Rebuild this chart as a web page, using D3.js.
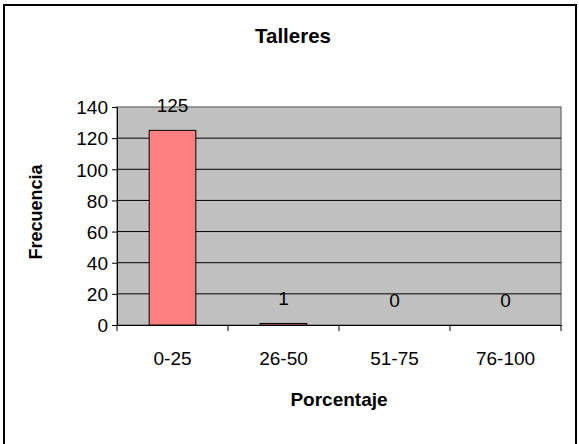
<!DOCTYPE html>
<html><head><meta charset="utf-8">
<script src="https://cdn.jsdelivr.net/npm/d3@7"></script>
<style>body{margin:0;background:#fff;} text{font-family:"Liberation Sans",Arial,sans-serif;}</style>
</head><body>
<svg id="c" width="579" height="444"></svg>
<script>
const categories = ["0-25","26-50","51-75","76-100"];
const values = [125, 1, 0, 0];
const yTicks = [0,20,40,60,80,100,120,140];
const title = "Talleres";
const xTitle = "Porcentaje";
const yTitle = "Frecuencia";

const svg = d3.select("#c");
svg.append("rect").attr("x",4).attr("y",5).attr("width",572).attr("height",445)
  .attr("fill","#fff").attr("stroke","#000").attr("stroke-width",2);

const m = {left:117, right:561, top:107, bottom:325};
const x = d3.scaleBand().domain(categories).range([m.left, m.right]).paddingInner(0).paddingOuter(0);
const y = d3.scaleLinear().domain([0,140]).range([m.bottom, m.top]);

svg.append("rect").attr("x",m.left).attr("y",m.top).attr("width",m.right-m.left).attr("height",m.bottom-m.top)
  .attr("fill","#C0C0C0").attr("stroke","#808080").attr("stroke-width",1.5);

svg.append("g").selectAll("line").data(yTicks.filter(d=>d>0 && d<140)).join("line")
  .attr("x1",m.left).attr("x2",m.right).attr("y1",d=>y(d)).attr("y2",d=>y(d))
  .attr("stroke","#000").attr("stroke-width",1);

const bw = x.bandwidth()*0.42;
svg.append("g").selectAll("rect").data(values).join("rect")
  .attr("x",(d,i)=>x(categories[i])+x.bandwidth()/2-bw/2)
  .attr("y",d=>y(d)).attr("width",bw).attr("height",d=>y(0)-y(d))
  .attr("fill","#FF8080").attr("stroke",d=>d>0?"#000":"none").attr("stroke-width",1);

// y axis
const ya = svg.append("g").attr("transform",`translate(${m.left},0)`)
  .call(d3.axisLeft(y).tickValues(yTicks).tickSize(5).tickPadding(4));
ya.select(".domain").attr("stroke","#000");
ya.selectAll("text").attr("font-size",19).attr("fill","#000").attr("dy","0.36em");
ya.selectAll("line").attr("stroke","#000");

// x axis
const xa = svg.append("g").attr("transform",`translate(0,${m.bottom})`)
  .call(d3.axisBottom(x).tickSize(0).tickPadding(27));
xa.select(".domain").attr("stroke","#000");
xa.selectAll("text").attr("font-size",19).attr("fill","#000");
svg.append("g").selectAll("line").data(categories.concat([null])).join("line")
  .attr("x1",(d,i)=> i<categories.length ? x(d) : m.right)
  .attr("x2",(d,i)=> i<categories.length ? x(d) : m.right)
  .attr("y1",m.bottom).attr("y2",m.bottom+6).attr("stroke","#000");

// data labels
svg.append("g").selectAll("text").data(values).join("text")
  .attr("x",(d,i)=>x(categories[i])+x.bandwidth()/2)
  .attr("y",d=>y(d)-18.5).attr("text-anchor","middle").attr("font-size",19).text(d=>d);

svg.append("text").attr("x",293).attr("y",43).attr("text-anchor","middle")
  .attr("font-size",20.5).attr("font-weight","bold").text(title);
svg.append("text").attr("x",(m.left+m.right)/2).attr("y",406).attr("text-anchor","middle")
  .attr("font-size",19).attr("font-weight","bold").text(xTitle);
svg.append("text").attr("transform",`translate(42,${212}) rotate(-90)`)
  .attr("text-anchor","middle").attr("font-size",18).attr("font-weight","bold").text(yTitle);
</script>
</body></html>
